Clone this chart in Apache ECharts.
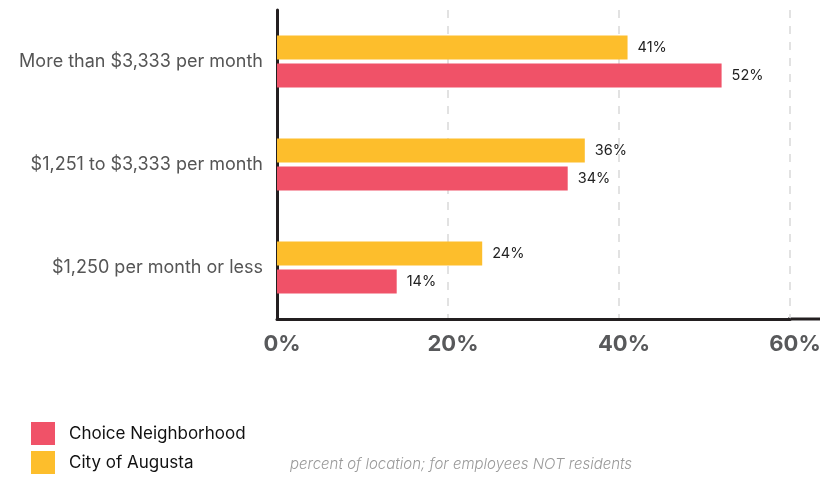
<!DOCTYPE html>
<html>
<head>
<meta charset="utf-8">
<script src="https://cdn.jsdelivr.net/npm/echarts@6/dist/echarts.min.js"></script>
<style>
  html, body { margin: 0; padding: 0; background: #fff; }
  #chart { width: 836px; height: 477px; }
</style>
</head>
<body>
<div id="chart"></div>
<script>
// Income bands, listed bottom to top on the category axis
const categories = [
  '$1,250 per month or less',
  '$1,251 to $3,333 per month',
  'More than $3,333 per month'
];
const choiceNeighborhood = [14, 34, 52];
const cityOfAugusta = [24, 36, 41];
const xTicks = [0, 20, 40, 60];

const FONT = 'Inter, "Noto Sans", sans-serif';
const RED = '#f05268';
const YELLOW = '#fdbe2c';
const INK = '#231f20';

const chart = echarts.init(document.getElementById('chart'), null, { renderer: 'canvas' });

const valueLabel = {
  show: true,
  position: 'right',
  distance: 10,
  formatter: '{c}%',
  color: '#222',
  fontFamily: FONT,
  fontSize: 14.5
};

chart.setOption({
  animation: false,
  backgroundColor: '#fff',
  grid: { left: 277, top: 10, right: 46, bottom: 158, containLabel: false },
  xAxis: {
    type: 'value',
    min: xTicks[0],
    max: xTicks[xTicks.length - 1],
    interval: xTicks[1] - xTicks[0],
    axisLine: { show: true, lineStyle: { color: INK, width: 3 } },
    axisTick: { show: false },
    axisLabel: {
      formatter: '{value}%',
      color: '#58595b',
      fontFamily: FONT,
      fontWeight: 'bold',
      fontSize: 22,
      margin: 14,
      padding: [0, 0, 0, 10]
    },
    splitLine: { show: true, lineStyle: { color: '#d9d9d9', width: 1.5, type: [8, 8] } }
  },
  yAxis: {
    type: 'category',
    data: categories,
    axisLine: { show: true, lineStyle: { color: INK, width: 3 } },
    axisTick: { show: false },
    axisLabel: { color: '#555', fontFamily: FONT, fontSize: 18, margin: 14 },
    splitLine: { show: false }
  },
  legend: {
    orient: 'vertical',
    left: 31,
    top: 422,
    padding: 0,
    icon: 'rect',
    itemWidth: 24,
    itemHeight: 23,
    itemGap: 6,
    data: ['Choice Neighborhood', 'City of Augusta'],
    textStyle: { color: '#111', fontFamily: FONT, fontSize: 17, padding: [2, 0, 0, 9] }
  },
  series: [
    {
      name: 'City of Augusta',
      type: 'bar',
      data: cityOfAugusta,
      barWidth: 24,
      barGap: '17%',
      itemStyle: { color: YELLOW },
      label: valueLabel
    },
    {
      name: 'Choice Neighborhood',
      type: 'bar',
      data: choiceNeighborhood,
      barWidth: 24,
      itemStyle: { color: RED },
      label: valueLabel
    }
  ],
  graphic: [
    {
      type: 'text',
      left: 290,
      top: 457,
      style: {
        text: 'percent of location; for employees NOT residents',
        fill: '#9a9a9a',
        fontFamily: FONT,
        fontStyle: 'italic',
        fontWeight: 300,
        fontSize: 15
      }
    }
  ]
});

// Carry the baseline a little past the last tick
const rect = chart.getModel().getComponent('grid', 0).coordinateSystem.getRect();
chart.setOption({
  graphic: [
    {},
    {
      type: 'line',
      shape: { x1: rect.x + rect.width - 2, y1: rect.y + rect.height, x2: rect.x + rect.width + 30, y2: rect.y + rect.height },
      style: { stroke: INK, lineWidth: 3 }
    }
  ]
});
</script>
</body>
</html>
